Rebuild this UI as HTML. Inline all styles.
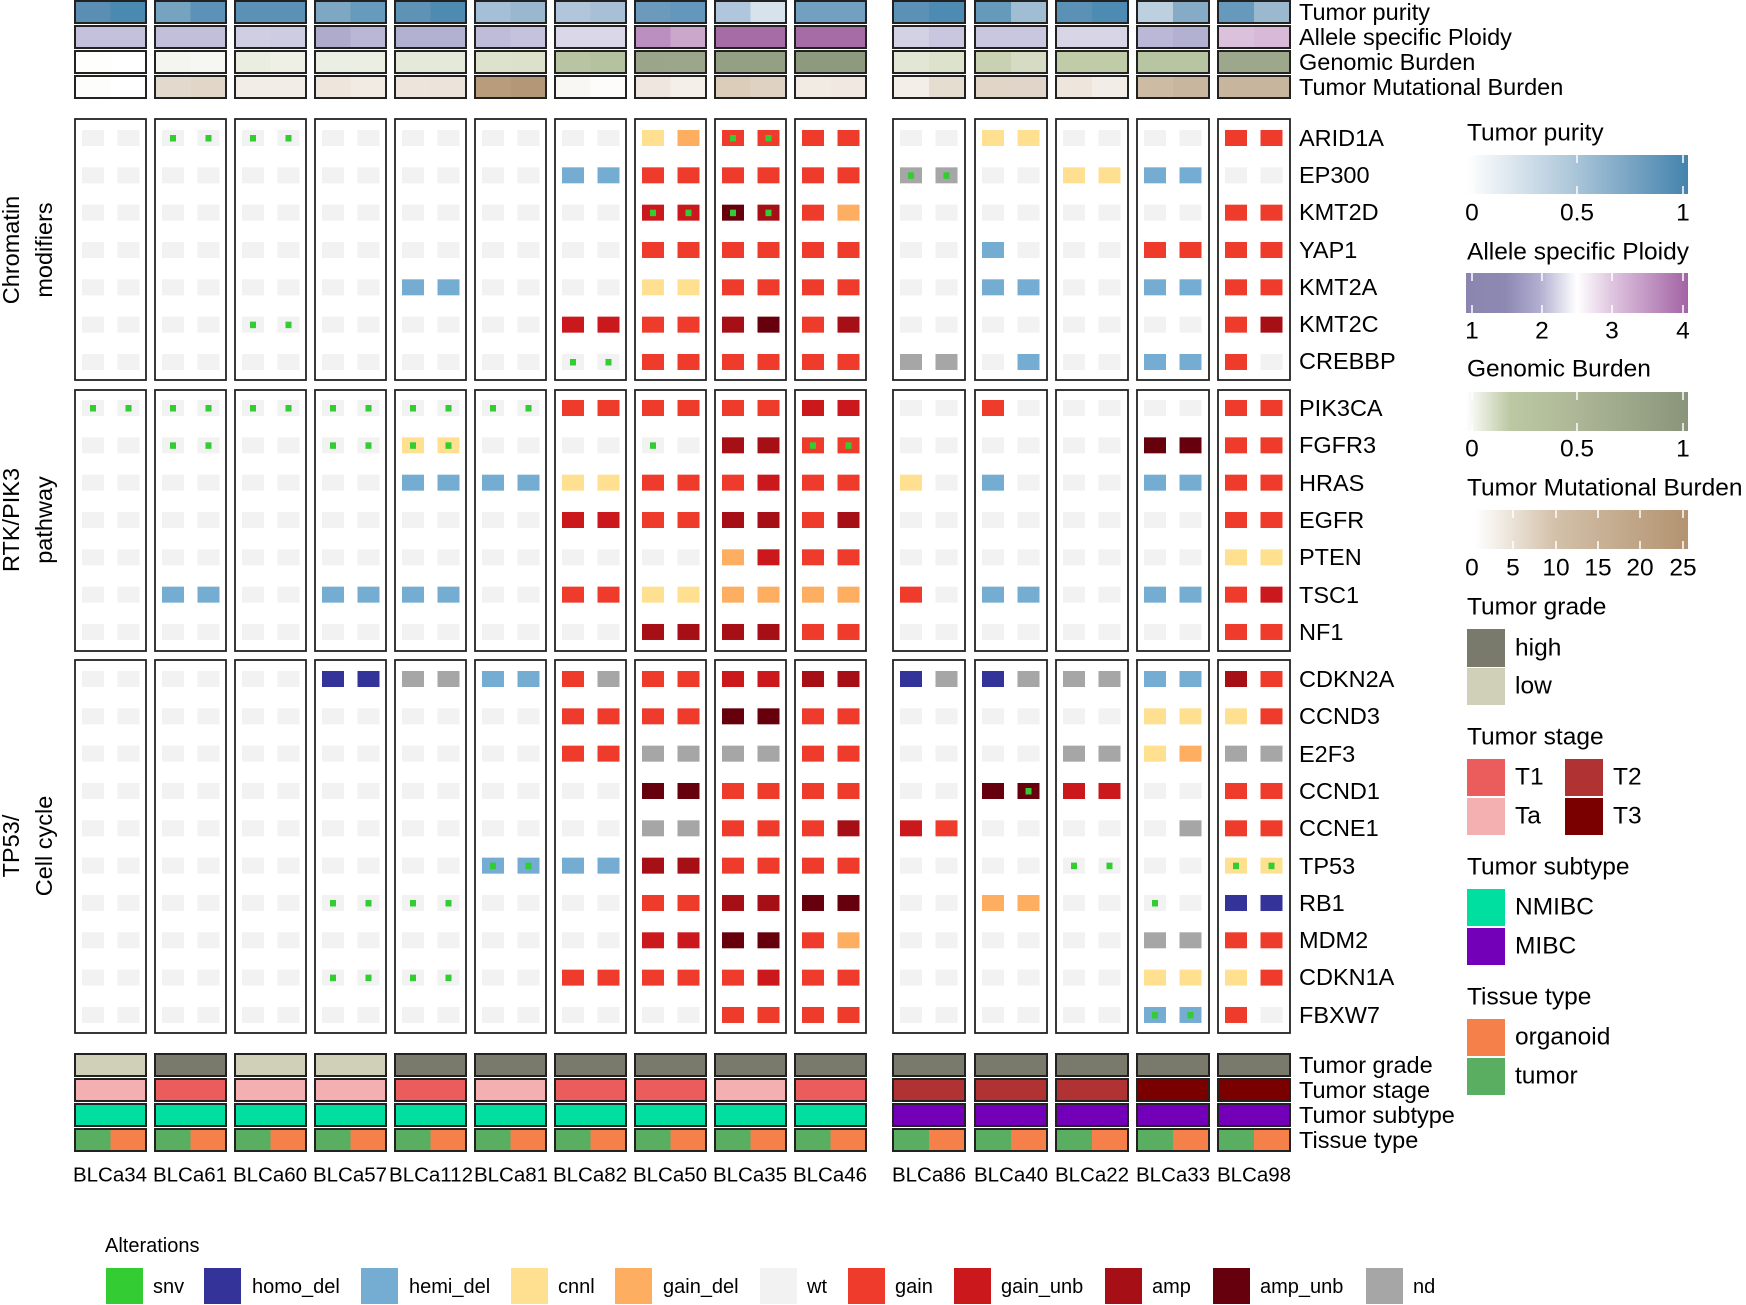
<!DOCTYPE html>
<html><head><meta charset="utf-8">
<style>
html,body{margin:0;padding:0;background:#fff;}
svg{display:block;font-family:"Liberation Sans",Arial,sans-serif;}
text{fill:#000;}
</style></head>
<body>
<svg id="s" width="1746" height="1305" viewBox="0 0 1746 1305" xmlns="http://www.w3.org/2000/svg">
<defs>
<linearGradient id="gp" x1="0" x2="1" y1="0" y2="0"><stop offset="0" stop-color="#ffffff"/><stop offset="0.5" stop-color="#a9c4d8"/><stop offset="1" stop-color="#4483ad"/></linearGradient>
<linearGradient id="gq" x1="0" x2="1" y1="0" y2="0"><stop offset="0" stop-color="#8a86b0"/><stop offset="0.18" stop-color="#8d89b3"/><stop offset="0.33" stop-color="#b1aed0"/><stop offset="0.5" stop-color="#ffffff"/><stop offset="0.66" stop-color="#dec4df"/><stop offset="1" stop-color="#a263a4"/></linearGradient>
<linearGradient id="gg" x1="0" x2="1" y1="0" y2="0"><stop offset="0" stop-color="#ffffff"/><stop offset="0.2" stop-color="#bcc8a3"/><stop offset="0.5" stop-color="#adb797"/><stop offset="1" stop-color="#8a947a"/></linearGradient>
<linearGradient id="gt" x1="0" x2="1" y1="0" y2="0"><stop offset="0.04" stop-color="#ffffff"/><stop offset="0.4" stop-color="#d3c1aa"/><stop offset="1" stop-color="#b39370"/></linearGradient>
</defs>
<g id="cells"></g>

<g font-size="23.5">
<text x="1299" y="12" dominant-baseline="central">Tumor purity</text>
<text x="1299" y="37" dominant-baseline="central">Allele specific Ploidy</text>
<text x="1299" y="62" dominant-baseline="central">Genomic Burden</text>
<text x="1299" y="87" dominant-baseline="central">Tumor Mutational Burden</text>
<text x="1299" y="1065" dominant-baseline="central">Tumor grade</text>
<text x="1299" y="1090" dominant-baseline="central">Tumor stage</text>
<text x="1299" y="1115" dominant-baseline="central">Tumor subtype</text>
<text x="1299" y="1140" dominant-baseline="central">Tissue type</text>
</g>

<g font-size="23.5">
<text x="1299" y="138" dominant-baseline="central">ARID1A</text>
<text x="1299" y="175" dominant-baseline="central">EP300</text>
<text x="1299" y="212" dominant-baseline="central">KMT2D</text>
<text x="1299" y="250" dominant-baseline="central">YAP1</text>
<text x="1299" y="287" dominant-baseline="central">KMT2A</text>
<text x="1299" y="324" dominant-baseline="central">KMT2C</text>
<text x="1299" y="361" dominant-baseline="central">CREBBP</text>
<text x="1299" y="408" dominant-baseline="central">PIK3CA</text>
<text x="1299" y="445" dominant-baseline="central">FGFR3</text>
<text x="1299" y="483" dominant-baseline="central">HRAS</text>
<text x="1299" y="520" dominant-baseline="central">EGFR</text>
<text x="1299" y="557" dominant-baseline="central">PTEN</text>
<text x="1299" y="595" dominant-baseline="central">TSC1</text>
<text x="1299" y="632" dominant-baseline="central">NF1</text>
<text x="1299" y="679" dominant-baseline="central">CDKN2A</text>
<text x="1299" y="716" dominant-baseline="central">CCND3</text>
<text x="1299" y="754" dominant-baseline="central">E2F3</text>
<text x="1299" y="791" dominant-baseline="central">CCND1</text>
<text x="1299" y="828" dominant-baseline="central">CCNE1</text>
<text x="1299" y="866" dominant-baseline="central">TP53</text>
<text x="1299" y="903" dominant-baseline="central">RB1</text>
<text x="1299" y="940" dominant-baseline="central">MDM2</text>
<text x="1299" y="977" dominant-baseline="central">CDKN1A</text>
<text x="1299" y="1015" dominant-baseline="central">FBXW7</text>
</g>

<g font-size="23.5" text-anchor="middle">
<text transform="translate(11,250) rotate(-90)" dominant-baseline="central">Chromatin</text>
<text transform="translate(44,250) rotate(-90)" dominant-baseline="central">modifiers</text>
<text transform="translate(11,520) rotate(-90)" dominant-baseline="central">RTK/PIK3</text>
<text transform="translate(44,520) rotate(-90)" dominant-baseline="central">pathway</text>
<text transform="translate(11,846) rotate(-90)" dominant-baseline="central">TP53/</text>
<text transform="translate(44,846) rotate(-90)" dominant-baseline="central">Cell cycle</text>
</g>

<g font-size="20.5" text-anchor="middle">
<text x="110" y="1175" dominant-baseline="central">BLCa34</text>
<text x="190" y="1175" dominant-baseline="central">BLCa61</text>
<text x="270" y="1175" dominant-baseline="central">BLCa60</text>
<text x="350" y="1175" dominant-baseline="central">BLCa57</text>
<text x="431" y="1175" dominant-baseline="central">BLCa112</text>
<text x="511" y="1175" dominant-baseline="central">BLCa81</text>
<text x="590" y="1175" dominant-baseline="central">BLCa82</text>
<text x="670" y="1175" dominant-baseline="central">BLCa50</text>
<text x="750" y="1175" dominant-baseline="central">BLCa35</text>
<text x="830" y="1175" dominant-baseline="central">BLCa46</text>
<text x="929" y="1175" dominant-baseline="central">BLCa86</text>
<text x="1011" y="1175" dominant-baseline="central">BLCa40</text>
<text x="1092" y="1175" dominant-baseline="central">BLCa22</text>
<text x="1173" y="1175" dominant-baseline="central">BLCa33</text>
<text x="1254" y="1175" dominant-baseline="central">BLCa98</text>
</g>

<g font-size="24.5">
<text x="1467" y="133" dominant-baseline="central">Tumor purity</text>
<rect x="1466" y="155" width="222" height="39" fill="url(#gp)"/>
<text x="1472" y="213" text-anchor="middle" dominant-baseline="central">0</text>
<text x="1577" y="213" text-anchor="middle" dominant-baseline="central">0.5</text>
<text x="1683" y="213" text-anchor="middle" dominant-baseline="central">1</text>

<text x="1467" y="252" dominant-baseline="central">Allele specific Ploidy</text>
<rect x="1466" y="273" width="222" height="40" fill="url(#gq)"/>
<text x="1472" y="331" text-anchor="middle" dominant-baseline="central">1</text>
<text x="1542" y="331" text-anchor="middle" dominant-baseline="central">2</text>
<text x="1612" y="331" text-anchor="middle" dominant-baseline="central">3</text>
<text x="1683" y="331" text-anchor="middle" dominant-baseline="central">4</text>

<text x="1467" y="369" dominant-baseline="central">Genomic Burden</text>
<rect x="1466" y="392" width="222" height="39" fill="url(#gg)"/>
<text x="1472" y="449" text-anchor="middle" dominant-baseline="central">0</text>
<text x="1577" y="449" text-anchor="middle" dominant-baseline="central">0.5</text>
<text x="1683" y="449" text-anchor="middle" dominant-baseline="central">1</text>

<text x="1467" y="488" dominant-baseline="central">Tumor Mutational Burden</text>
<rect x="1466" y="510" width="222" height="39" fill="url(#gt)"/>
<text x="1472" y="568" text-anchor="middle" dominant-baseline="central">0</text>
<text x="1513" y="568" text-anchor="middle" dominant-baseline="central">5</text>
<text x="1556" y="568" text-anchor="middle" dominant-baseline="central">10</text>
<text x="1598" y="568" text-anchor="middle" dominant-baseline="central">15</text>
<text x="1640" y="568" text-anchor="middle" dominant-baseline="central">20</text>
<text x="1683" y="568" text-anchor="middle" dominant-baseline="central">25</text>

<g stroke="#fff" stroke-width="1.5">
<line x1="1472" y1="155" x2="1472" y2="163"/><line x1="1472" y1="186" x2="1472" y2="194"/>
<line x1="1577" y1="155" x2="1577" y2="163"/><line x1="1577" y1="186" x2="1577" y2="194"/>
<line x1="1683" y1="155" x2="1683" y2="163"/><line x1="1683" y1="186" x2="1683" y2="194"/>
<line x1="1472" y1="273" x2="1472" y2="281"/><line x1="1472" y1="305" x2="1472" y2="313"/>
<line x1="1542" y1="273" x2="1542" y2="281"/><line x1="1542" y1="305" x2="1542" y2="313"/>
<line x1="1612" y1="273" x2="1612" y2="281"/><line x1="1612" y1="305" x2="1612" y2="313"/>
<line x1="1683" y1="273" x2="1683" y2="281"/><line x1="1683" y1="305" x2="1683" y2="313"/>
<line x1="1472" y1="392" x2="1472" y2="400"/><line x1="1472" y1="423" x2="1472" y2="431"/>
<line x1="1577" y1="392" x2="1577" y2="400"/><line x1="1577" y1="423" x2="1577" y2="431"/>
<line x1="1683" y1="392" x2="1683" y2="400"/><line x1="1683" y1="423" x2="1683" y2="431"/>
<line x1="1513" y1="510" x2="1513" y2="518"/><line x1="1513" y1="541" x2="1513" y2="549"/>
<line x1="1556" y1="510" x2="1556" y2="518"/><line x1="1556" y1="541" x2="1556" y2="549"/>
<line x1="1598" y1="510" x2="1598" y2="518"/><line x1="1598" y1="541" x2="1598" y2="549"/>
<line x1="1640" y1="510" x2="1640" y2="518"/><line x1="1640" y1="541" x2="1640" y2="549"/>
<line x1="1683" y1="510" x2="1683" y2="518"/><line x1="1683" y1="541" x2="1683" y2="549"/>
</g>

<text x="1467" y="607" dominant-baseline="central">Tumor grade</text>
<rect x="1467" y="629" width="38" height="38" fill="#7a7a6c"/>
<rect x="1467" y="668" width="38" height="37" fill="#d0cfb8"/>
<text x="1515" y="648" dominant-baseline="central">high</text>
<text x="1515" y="686" dominant-baseline="central">low</text>

<text x="1467" y="737" dominant-baseline="central">Tumor stage</text>
<rect x="1467" y="759" width="38" height="37" fill="#eb5c5c"/>
<rect x="1467" y="798" width="38" height="37" fill="#f4b0b0"/>
<rect x="1565" y="759" width="38" height="37" fill="#b03232"/>
<rect x="1565" y="798" width="38" height="37" fill="#7a0000"/>
<text x="1515" y="777" dominant-baseline="central">T1</text>
<text x="1515" y="816" dominant-baseline="central">Ta</text>
<text x="1613" y="777" dominant-baseline="central">T2</text>
<text x="1613" y="816" dominant-baseline="central">T3</text>

<text x="1467" y="867" dominant-baseline="central">Tumor subtype</text>
<rect x="1467" y="889" width="38" height="37" fill="#00dfa0"/>
<rect x="1467" y="928" width="38" height="37" fill="#7300b8"/>
<text x="1515" y="907" dominant-baseline="central">NMIBC</text>
<text x="1515" y="946" dominant-baseline="central">MIBC</text>

<text x="1467" y="997" dominant-baseline="central">Tissue type</text>
<rect x="1467" y="1019" width="38" height="37" fill="#f58049"/>
<rect x="1467" y="1058" width="38" height="37" fill="#59ae62"/>
<text x="1515" y="1037" dominant-baseline="central">organoid</text>
<text x="1515" y="1076" dominant-baseline="central">tumor</text>
</g>

<g font-size="20">
<text x="105" y="1246" dominant-baseline="central">Alterations</text>
<rect x="106" y="1268" width="37" height="36" fill="#33cc33"/><text x="153" y="1287" dominant-baseline="central">snv</text>
<rect x="204" y="1268" width="37" height="36" fill="#333399"/><text x="252" y="1287" dominant-baseline="central">homo_del</text>
<rect x="361" y="1268" width="37" height="36" fill="#74add1"/><text x="409" y="1287" dominant-baseline="central">hemi_del</text>
<rect x="511" y="1268" width="37" height="36" fill="#fee090"/><text x="558" y="1287" dominant-baseline="central">cnnl</text>
<rect x="615" y="1268" width="37" height="36" fill="#fdae61"/><text x="663" y="1287" dominant-baseline="central">gain_del</text>
<rect x="760" y="1268" width="37" height="36" fill="#f2f2f2"/><text x="807" y="1287" dominant-baseline="central">wt</text>
<rect x="848" y="1268" width="37" height="36" fill="#ef3b2c"/><text x="895" y="1287" dominant-baseline="central">gain</text>
<rect x="954" y="1268" width="37" height="36" fill="#cb181d"/><text x="1001" y="1287" dominant-baseline="central">gain_unb</text>
<rect x="1105" y="1268" width="37" height="36" fill="#a50f15"/><text x="1152" y="1287" dominant-baseline="central">amp</text>
<rect x="1213" y="1268" width="37" height="36" fill="#67000d"/><text x="1260" y="1287" dominant-baseline="central">amp_unb</text>
<rect x="1366" y="1268" width="37" height="36" fill="#a6a6a6"/><text x="1413" y="1287" dominant-baseline="central">nd</text>
</g>
</svg>
<script>
(function(){
var NS="http://www.w3.org/2000/svg";
var g=document.getElementById("cells");
function R(x,y,w,h,f,st,sw){var r=document.createElementNS(NS,"rect");r.setAttribute("x",x);r.setAttribute("y",y);r.setAttribute("width",w);r.setAttribute("height",h);r.setAttribute("fill",f||"none");if(st){r.setAttribute("stroke",st);r.setAttribute("stroke-width",sw||2);}g.appendChild(r);}
var lefts=[75,155,235,315,395,475,555,635,715,795,893,975,1056,1137,1218];
var W=71;
var col={w:"#f2f2f2",s:"#f2f2f2",G:"#ef3b2c",U:"#cb181d",A:"#a50f15",X:"#67000d",H:"#74add1",D:"#333399",C:"#fee090",L:"#fdae61",N:"#a6a6a6"};
var top=[
["5a8fb3 4b8ab0","75a3c0 5c92b7","5a91b5 5a91b5","7da7c3 679bbd","5f93b6 4f8bb1","a5c0d6 99b8cf","b1c6db a8c0d6","6b9abd 6398bc","b0c6dc d6e2ec","72a0c0 72a0c0","5a91b5 4e8bb2","669aba 9fbdd3","5a91b5 4e8bb2","bcd0df 85abc6","6699bb 9ab9cf"],
["c4c1dc c4c1dc","c2bfdb c2bfdb","d0cee3 cecce2","aeabcc b9b6d6","b3b1d2 b3b1d2","bebcd9 c4c2dc","d9d7e8 d9d7e8","bb8fc0 cba7cc","a56ca5 a56ca5","a56ca5 a56ca5","d3d1e4 c9c6df","c9c6df c9c6df","d8d6e6 d8d6e6","bab8d6 b3b1d2","dcc1dc d8bad8"],
["fefefd ffffff","f3f5ee f6f7f2","eaeee1 eef0e6","ebeee3 ebeee3","e5e9d9 e5e9d9","dde2cc dce1cb","b8c4a2 b4c29f","9aa58a 9ba68b","93a083 93a083","8e9a7e 8e9a7e","e2e6d4 dde2cc","c8d2b2 d5dcc3","c0cba8 c0cba8","b8c5a2 b8c5a2","9ca78c 9ca78c"],
["fdfdfc ffffff","e4d9cd e2d6c8","f2ede7 f2ede7","eee6dd f2ebe4","ede5dc ece3da","b89c7b b39777","f9f7f4 fdfcfb","efe7df f4efe9","dccdbb dfd2c2","f2ebe4 f0e8e1","f3eee8 e6ddd1","e0d5c7 e0d5c8","eee6dd f3ede7","cdbba4 c8b69f","c8b59e c8b59e"]];
var topY=[1,26,51,76];
for(var r=0;r<4;r++){for(var c=0;c<15;c++){var p=top[r][c].split(" ");var w=lefts[c]<890?W:72;
R(lefts[c],topY[r],w/2,22,"#"+p[0]);R(lefts[c]+w/2,topY[r],w/2,22,"#"+p[1]);R(lefts[c],topY[r],w,22,null,"#222",2);}}
var grade="lhllhhhhhhhhhhh",stage="aTaaTaTTaT22233";
var sc={a:"#f4b0b0",T:"#eb5c5c","2":"#b03232","3":"#7a0000"};
var botY=[1054,1079,1104,1129];
for(var c=0;c<15;c++){var w=lefts[c]<890?W:72;var x=lefts[c];
R(x,botY[0],w,22,grade[c]=="h"?"#7a7a6c":"#d0cfb8");
R(x,botY[1],w,22,sc[stage[c]]);
R(x,botY[2],w,22,c<10?"#00dfa0":"#7300b8");
R(x,botY[3],w/2,22,"#59ae62");R(x+w/2,botY[3],w/2,22,"#f58049");
for(var k=0;k<4;k++)R(x,botY[k],w,22,null,"#222",2);}
var genes=[
"ww ss ss ww ww ww ww CL G+G+ GG ww CC ww ww GG",
"ww ww ww ww ww ww HH GG GG GG N+N+ ww CC HH ww",
"ww ww ww ww ww ww ww U+U+ X+A+ GL ww ww ww ww GG",
"ww ww ww ww ww ww ww GG GG GG ww Hw ww GG GG",
"ww ww ww ww HH ww ww CC GG GG ww HH ww HH GG",
"ww ww ss ww ww ww UU GG AX GA ww ww ww ww GA",
"ww ww ww ww ww ww ss GG GG GG NN wH ww HH Gw",
"ss ss ss ss ss ss GG GG GG UU ww Gw ww ww GG",
"ww ss ww ss C+C+ ww ww sw AA G+G+ ww ww ww XX GG",
"ww ww ww ww HH HH CC GG GU GG Cw Hw ww HH GG",
"ww ww ww ww ww ww UU GG AA GA ww ww ww ww GG",
"ww ww ww ww ww ww ww ww LU GG ww ww ww ww CC",
"ww HH ww HH HH ww GG CC LL LL Gw HH ww HH GU",
"ww ww ww ww ww ww ww AA AA GG ww ww ww ww GG",
"ww ww ww DD NN HH GN GG UU AA DN DN NN HH AG",
"ww ww ww ww ww ww GG GG XX GG ww ww ww CC CG",
"ww ww ww ww ww ww GG NN NN GG ww ww NN CL NN",
"ww ww ww ww ww ww ww XX GG GG ww XX+ UU ww GG",
"ww ww ww ww ww ww ww NN GG GA UG ww ww wN GG",
"ww ww ww ww ww H+H+ HH AA GG GG ww ww ss ww C+C+",
"ww ww ww ss ss ww ww GG AA XX ww LL ww sw DD",
"ww ww ww ww ww ww ww UU XX GL ww ww ww NN GG",
"ww ww ww ss ss ww GG GG GU GG ww ww ww CC CG",
"ww ww ww ww ww ww ww ww GG GG ww ww ww H+H+ Gw"];
var rowY=[];
for(var i=0;i<7;i++)rowY.push(138+i*37.33);
for(var i=0;i<7;i++)rowY.push(408+i*37.33);
for(var i=0;i<10;i++)rowY.push(679+i*37.33);
var boxes=[[119,380],[390,651],[660,1033]];
for(var c=0;c<15;c++){var w=lefts[c]<890?W:72;for(var b=0;b<3;b++){R(lefts[c],boxes[b][0],w,boxes[b][1]-boxes[b][0],"#fff","#222",1.8);}}
for(var gi=0;gi<genes.length;gi++){
 var toks=genes[gi].split(" ");
 for(var c=0;c<15;c++){
  var t=toks[c];var cells=[];var j=0;
  while(j<t.length){var ch=t[j];var snv=false;if(t[j+1]=="+"){snv=true;j++;}if(ch=="s")snv=true;cells.push([ch,snv]);j++;}
  for(var k=0;k<2;k++){
   var x=lefts[c]+(k==0?7:42.5);var y=rowY[gi]-8;
   R(x,y,22,16,col[cells[k][0]]);
   if(cells[k][1])R(x+8,y+5,6,6.5,"#33cc33");
  }
 }
}
})();
</script>
</body></html>
